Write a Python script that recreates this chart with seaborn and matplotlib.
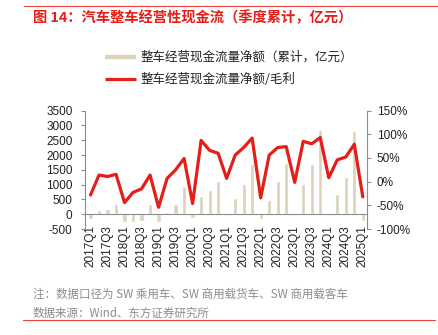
import numpy as np
import pandas as pd
import matplotlib
matplotlib.use("Agg")
import matplotlib.pyplot as plt
from matplotlib.lines import Line2D
from matplotlib.ticker import FixedLocator, FixedFormatter, NullFormatter
import seaborn as sns

sns.set_style("white")
plt.rcParams['font.family'] = ['Liberation Sans', 'Noto Sans CJK SC', 'DejaVu Sans']
CJK = ['Noto Sans CJK SC', 'DejaVu Sans']

quarters = [f"{y}Q{q}" for y in range(2017, 2025) for q in range(1, 5)] + ["2025Q1"]
cash_flow = [-150, 135, 170, 340, -260, -260, -237, 340,
             -260, 68, 340, 960, -113, 621, 813, 1125,
             25, 542, 1016, 1682, -147, 474, 1118, 1727,
             10, 1039, 1693, 2856, 45, 677, 1242, 2811, -226]
ratio = [-28, 14, 11, 15.5, -44, -22.6, -15, 14,
         -54, 7, 25, 49, -46, 87, 66, 60,
         7, 56, 72, 92, -34, 56, 72, 74,
         -1.4, 85, 80, 93, 8.5, 46, 52, 79, -32]
left_ticks = list(range(-500, 3501, 500))
right_ticks = list(range(-100, 151, 50))

bar_label = "整车经营现金流量净额（累计，亿元）"
line_label = "整车经营现金流量净额/毛利"
bar_color = "#DDD3BC"
line_color = "#E41F1A"
grey = "#8C8C8C"

df = pd.DataFrame({"quarter": quarters, "cash": cash_flow, "ratio": ratio})
df["pos"] = np.arange(len(df))

fig = plt.figure(figsize=(4.38, 3.35), dpi=100)
ax = fig.add_axes([0.194, 0.316, 0.644, 0.354])
sns.barplot(data=df, x="pos", y="cash", color=bar_color, width=0.5,
            saturation=1, ax=ax, zorder=2, native_scale=True)
ax2 = ax.twinx()
sns.lineplot(data=df, x="pos", y="ratio", color=line_color, linewidth=2.3,
             ax=ax2, sort=False, zorder=3)

ax.set_ylim(-500, 3500)
ax2.set_ylim(-100, 150)
ax.set_xlim(-0.65, len(quarters) - 0.5)
ax.set_yticks(left_ticks)
ax.set_yticklabels([str(v) for v in left_ticks], fontsize=8.5)
ax2.set_yticks(right_ticks)
ax2.set_yticklabels([f"{v}%" for v in right_ticks], fontsize=8.5)
ax.set_xlabel("")
ax.set_ylabel("")
ax2.set_xlabel("")
ax2.set_ylabel("")

ax.xaxis.set_major_locator(FixedLocator(df["pos"].values[::2]))
ax.xaxis.set_major_formatter(FixedFormatter(quarters[::2]))
ax.xaxis.set_minor_locator(FixedLocator(np.arange(len(quarters) + 1) - 0.5))
ax.xaxis.set_minor_formatter(NullFormatter())
for lab in ax.get_xticklabels():
    lab.set_rotation(90)
    lab.set_fontsize(8.5)
ax.tick_params(axis='x', which='major', labelrotation=90, labelsize=8.5)
ax2.xaxis.set_visible(False)

for a in (ax, ax2):
    for s in a.spines.values():
        s.set_color(grey)
        s.set_linewidth(0.8)
    a.spines['top'].set_visible(False)
ax.spines['bottom'].set_position(('data', 0))
ax2.spines['bottom'].set_visible(False)
ax.spines['right'].set_visible(False)
ax2.spines['left'].set_visible(False)
ax.tick_params(axis='y', direction='out', length=3, color=grey, pad=6, labelcolor='#222222')
ax2.tick_params(axis='y', direction='out', length=3, color=grey, pad=4, labelcolor='#222222')
ax.tick_params(axis='x', which='major', length=0, pad=8, labelcolor='#222222')
ax.tick_params(axis='x', which='minor', direction='out', length=3, color=grey)
ax.set_zorder(1)
ax2.set_zorder(2)
ax.patch.set_visible(False)
ax.grid(False)
ax2.grid(False)

handles = [Line2D([0], [0], color=bar_color, lw=3.2, solid_capstyle='butt'),
           Line2D([0], [0], color=line_color, lw=2.3, solid_capstyle='butt')]
leg = fig.legend(handles, [bar_label, line_label], loc='upper left',
                 bbox_to_anchor=(105 / 438, (335 - 51) / 335), frameon=False,
                 prop={'family': CJK, 'size': 9}, handlelength=2.5,
                 handletextpad=0.35, labelspacing=0.72, borderpad=0, borderaxespad=0)
for t in leg.get_texts():
    t.set_color('#222222')
if ax2.get_legend():
    ax2.get_legend().remove()
if ax.get_legend():
    ax.get_legend().remove()

fig.text(33 / 438, (335 - 18) / 335, "图 14：汽车整车经营性现金流（季度累计，亿元）",
         color=line_color, fontsize=10.3, fontweight='bold', family=CJK,
         ha='left', va='center')
fig.text(33 / 438, (335 - 294) / 335, "注：数据口径为 SW 乘用车、SW 商用载货车、SW 商用载客车",
         color=grey, fontsize=8.3, family=CJK, ha='left', va='center')
fig.text(33 / 438, (335 - 313) / 335, "数据来源：Wind、东方证券研究所",
         color=grey, fontsize=8.3, family=CJK, ha='left', va='center')
fig.add_artist(Line2D([24 / 438, 1.0], [(335 - 6) / 335] * 2, color='#E8413C', lw=0.8))
fig.add_artist(Line2D([23 / 438, 435 / 438], [(335 - 320) / 335] * 2, color='#E8413C', lw=0.8))

fig.savefig("out.png", dpi=100)
